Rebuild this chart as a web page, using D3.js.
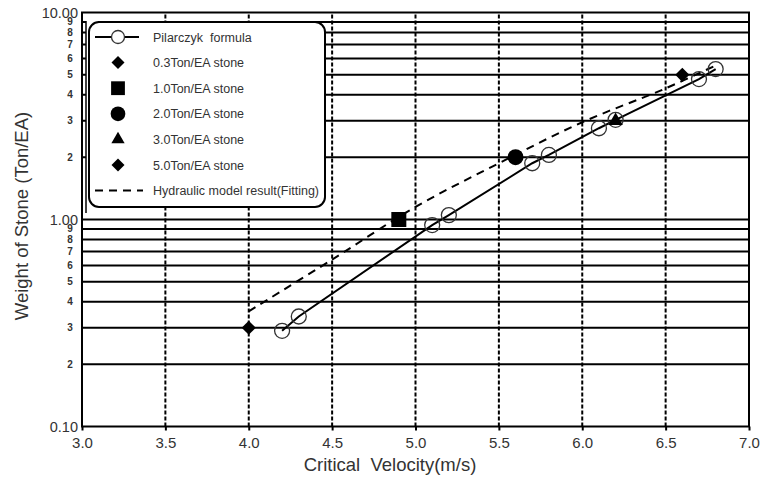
<!DOCTYPE html>
<html>
<head>
<meta charset="utf-8">
<script src="https://cdn.jsdelivr.net/npm/d3@7"></script>
<style>
  body { margin: 0; background: #fff; }
  text { font-family: Arial, "Liberation Sans", sans-serif; }
</style>
</head>
<body>
<script>
// velocities and weights
let pilarczykV = [4.2, 4.3, 5.1, 5.2, 5.7, 5.8, 6.1, 6.2, 6.7, 6.8];
let pilarczykW = [0.29, 0.34, 0.94, 1.05, 1.87, 2.05, 2.76, 3.03, 4.77, 5.33];

let fitV = [4.0, 4.5, 5.0, 5.5, 6.0, 6.5, 6.8];
let fitW = [0.36, 0.64, 1.15, 1.87, 2.95, 4.3, 5.55];

let stoneNames = ['0.3Ton/EA stone', '1.0Ton/EA stone', '2.0Ton/EA stone', '3.0Ton/EA stone', '5.0Ton/EA stone'];
let stoneV = [4.0, 4.9, 5.6, 6.2, 6.6];
let stoneW = [0.3, 1.0, 2.0, 3.0, 5.0];
let stoneShape = ['diamond', 'square', 'circle', 'triangle', 'diamond'];

let xTicks = [3.0, 3.5, 4.0, 4.5, 5.0, 5.5, 6.0, 6.5, 7.0];
let yMajor = [0.1, 1, 10];
let yMinor = [0.2, 0.3, 0.4, 0.5, 0.6, 0.7, 0.8, 0.9, 2, 3, 4, 5, 6, 7, 8, 9];

let width = 763, height = 481;
let margin = {top: 12.5, right: 14, bottom: 54.5, left: 82};

let svg = d3.select('body').append('svg')
  .attr('width', width)
  .attr('height', height);

let x = d3.scaleLinear().domain([3, 7]).range([margin.left, width - margin.right]);
let y = d3.scaleLog().domain([0.1, 10]).range([height - margin.bottom, margin.top]);

// horizontal grid (solid)
svg.append('g')
  .selectAll('line')
  .data(yMinor.concat([1]))
  .enter().append('line')
  .attr('x1', x(3)).attr('x2', x(7))
  .attr('y1', d => y(d)).attr('y2', d => y(d))
  .attr('stroke', '#000').attr('stroke-width', 2);

// vertical grid (dashed)
svg.append('g')
  .selectAll('line')
  .data(xTicks.slice(1, -1))
  .enter().append('line')
  .attr('x1', d => x(d)).attr('x2', d => x(d))
  .attr('y1', y(0.1)).attr('y2', y(10))
  .attr('stroke', '#000').attr('stroke-width', 2)
  .attr('stroke-dasharray', '4,2');

// x axis
let xAxis = svg.append('g')
  .attr('transform', 'translate(0,' + y(0.1) + ')')
  .call(d3.axisBottom(x).tickValues(xTicks).tickFormat(d3.format('.1f')).tickSize(4).tickPadding(7));
xAxis.select('.domain').remove();
xAxis.selectAll('line').attr('stroke', '#000').attr('stroke-width', 2);
xAxis.selectAll('text').attr('font-size', 15).attr('fill', '#333').attr('font-family', 'Arial, sans-serif');

// y axis labels
svg.append('g')
  .selectAll('text')
  .data(yMajor)
  .enter().append('text')
  .attr('x', margin.left - 4)
  .attr('y', d => y(d) + 5)
  .attr('text-anchor', 'end')
  .attr('font-size', 14.5)
  .attr('fill', '#333')
  .text(d => d3.format('.2f')(d));

svg.append('g')
  .selectAll('text')
  .data(yMinor)
  .enter().append('text')
  .attr('x', margin.left - 12)
  .attr('y', d => y(d) + 3.5)
  .attr('text-anchor', 'middle')
  .attr('font-size', 10)
  .attr('font-weight', 'bold')
  .attr('fill', '#333')
  .text(d => d < 1 ? Math.round(d * 10) : d);

// axis titles
svg.append('text')
  .attr('transform', 'translate(28,' + 216 + ') rotate(-90)')
  .attr('text-anchor', 'middle')
  .attr('font-size', 18.5)
  .attr('fill', '#333')
  .text('Weight of Stone (Ton/EA)');

svg.append('text')
  .attr('x', 390)
  .attr('y', 471)
  .attr('text-anchor', 'middle')
  .attr('font-size', 18.5)
  .attr('fill', '#333')
  .style('white-space', 'pre')
  .text('Critical  Velocity(m/s)');

// fitting curve (dashed)
let fitLine = d3.line()
  .x((d, i) => x(fitV[i]))
  .y(d => y(d))
  .curve(d3.curveCatmullRom);

svg.append('path')
  .attr('d', fitLine(fitW))
  .attr('fill', 'none')
  .attr('stroke', '#000')
  .attr('stroke-width', 2)
  .attr('stroke-dasharray', '8,6');

// pilarczyk line + circles
let pLine = d3.line()
  .x((d, i) => x(pilarczykV[i]))
  .y(d => y(d));

svg.append('path')
  .attr('d', pLine(pilarczykW))
  .attr('fill', 'none')
  .attr('stroke', '#000')
  .attr('stroke-width', 2);

svg.append('g')
  .selectAll('circle')
  .data(pilarczykW)
  .enter().append('circle')
  .attr('cx', (d, i) => x(pilarczykV[i]))
  .attr('cy', d => y(d))
  .attr('r', 7.5)
  .attr('fill', 'none')
  .attr('stroke', '#333')
  .attr('stroke-width', 1.3);

// stone markers
function symbolPath(shape) {
  if (shape === 'diamond') return d3.symbol().type(d3.symbolSquare).size(100)();
  if (shape === 'square') return d3.symbol().type(d3.symbolSquare).size(225)();
  if (shape === 'circle') return d3.symbol().type(d3.symbolCircle).size(200)();
  return d3.symbol().type(d3.symbolTriangle).size(90)();
}
function symbolRot(shape) {
  return shape === 'diamond' ? ' rotate(45)' : '';
}

svg.append('g')
  .selectAll('path')
  .data(stoneW)
  .enter().append('path')
  .attr('d', (d, i) => symbolPath(stoneShape[i]))
  .attr('transform', (d, i) => 'translate(' + x(stoneV[i]) + ',' + y(d) + ')' + symbolRot(stoneShape[i]))
  .attr('fill', '#000');

// legend
let lg = svg.append('g');
lg.append('rect')
  .attr('x', 86).attr('y', 21)
  .attr('width', 12).attr('height', 192)
  .attr('fill', '#fff');
lg.append('line')
  .attr('x1', 86).attr('x2', 86)
  .attr('y1', 21).attr('y2', 213)
  .attr('stroke', '#000').attr('stroke-width', 1.5);
lg.append('rect')
  .attr('x', 89).attr('y', 22)
  .attr('width', 236).attr('height', 185)
  .attr('rx', 10)
  .attr('fill', '#fff')
  .attr('stroke', '#000')
  .attr('stroke-width', 2);

let rowY = d3.range(7).map(i => 37 + i * 25.6);
let symX = 118, textX = 153;

lg.append('line')
  .attr('x1', 95).attr('x2', 139)
  .attr('y1', rowY[0]).attr('y2', rowY[0])
  .attr('stroke', '#000').attr('stroke-width', 2);
lg.append('circle')
  .attr('cx', symX).attr('cy', rowY[0]).attr('r', 6.5)
  .attr('fill', '#fff').attr('stroke', '#333').attr('stroke-width', 1.3);

stoneShape.forEach((s, i) => {
  lg.append('path')
    .attr('d', symbolPath(s))
    .attr('transform', 'translate(' + symX + ',' + rowY[i + 1] + ')' + symbolRot(s) + ' scale(0.92)')
    .attr('fill', '#000');
});

lg.append('line')
  .attr('x1', 95).attr('x2', 143)
  .attr('y1', rowY[6]).attr('y2', rowY[6])
  .attr('stroke', '#000').attr('stroke-width', 2)
  .attr('stroke-dasharray', '8,6');

let legendText = ['Pilarczyk  formula'].concat(stoneNames).concat(['Hydraulic model result(Fitting)']);
lg.selectAll('text.lt')
  .data(legendText)
  .enter().append('text')
  .attr('class', 'lt')
  .attr('x', textX)
  .attr('y', (d, i) => rowY[i] + 4.5)
  .attr('font-size', 12.5)
  .attr('fill', '#333')
  .style('white-space', 'pre')
  .text(d => d);

// frame
svg.append('rect')
  .attr('x', x(3)).attr('y', y(10))
  .attr('width', x(7) - x(3))
  .attr('height', y(0.1) - y(10))
  .attr('fill', 'none')
  .attr('stroke', '#000')
  .attr('stroke-width', 2);
</script>
</body>
</html>
